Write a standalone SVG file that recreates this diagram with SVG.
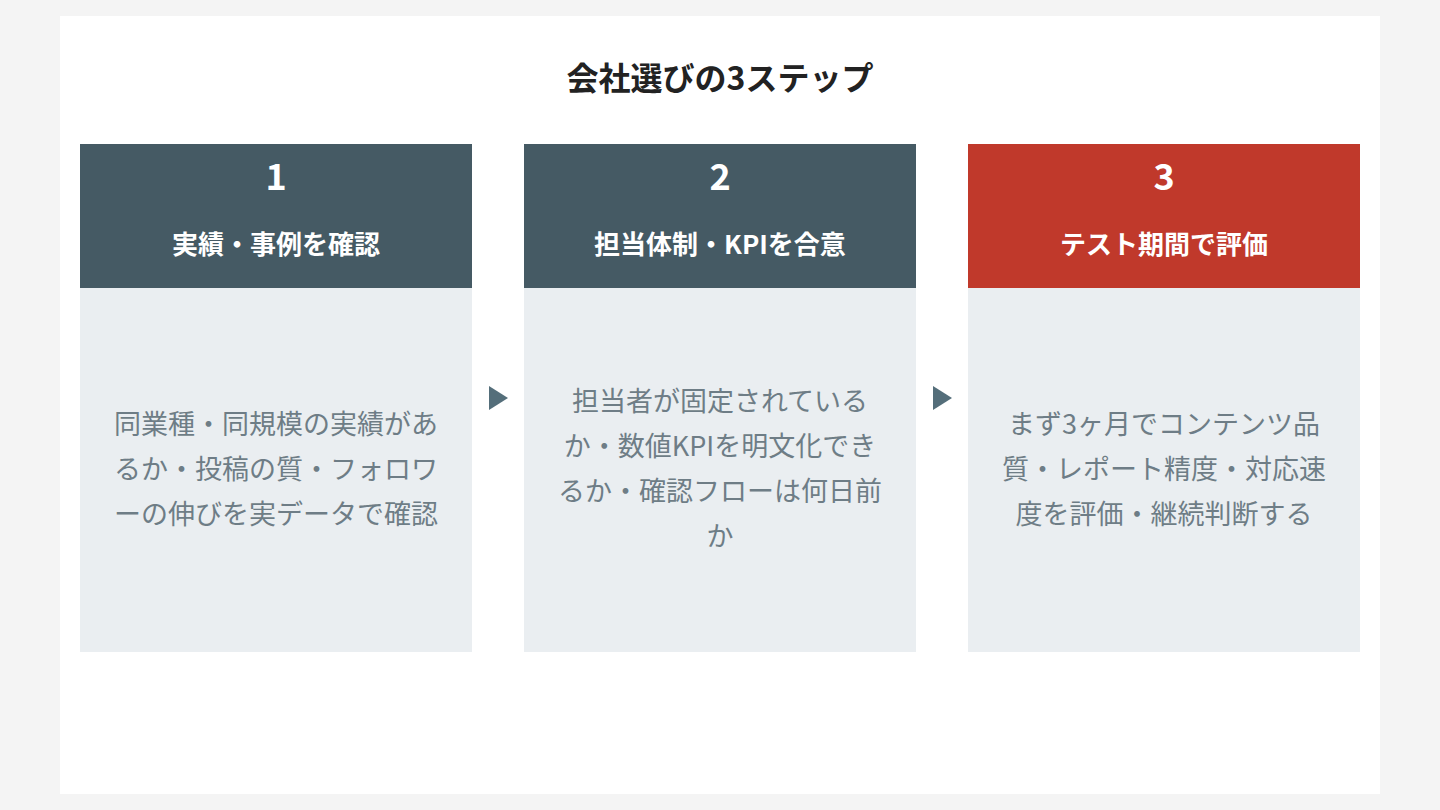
<svg xmlns="http://www.w3.org/2000/svg" width="1440" height="810" viewBox="0 0 1440 810">
<style>
text{font-family:"Noto Sans CJK JP","Noto Sans",sans-serif;text-anchor:middle}
.num{font-size:36px;font-weight:700;fill:#fff}
.hd{font-size:26px;font-weight:700;fill:#fff}
.bd{font-size:27px;fill:#6e7d86}
.body{fill:#eaeef1}
</style>
<rect width="1440" height="810" fill="#f4f4f4"/>
<rect x="60" y="16" width="1320" height="778" fill="#fff"/>
<text x="720" y="90" font-size="32" font-weight="700" fill="#222">会社選びの3ステップ</text>
<g id="step1">
<rect x="80" y="144" width="392" height="144" fill="#455a64"/>
<rect x="80" y="288" width="392" height="364" class="body"/>
<text x="276" y="190" class="num">1</text>
<text x="276" y="254" class="hd">実績・事例を確認</text>
<text x="276" y="434" class="bd">同業種・同規模の実績があ</text>
<text x="276" y="479" class="bd">るか・投稿の質・フォロワ</text>
<text x="276" y="524" class="bd">ーの伸びを実データで確認</text>
</g>
<g id="step2">
<rect x="524" y="144" width="392" height="144" fill="#455a64"/>
<rect x="524" y="288" width="392" height="364" class="body"/>
<text x="720" y="190" class="num">2</text>
<text x="720" y="254" class="hd">担当体制・KPIを合意</text>
<text x="720" y="411" class="bd">担当者が固定されている</text>
<text x="720" y="456" class="bd">か・数値KPIを明文化でき</text>
<text x="720" y="501" class="bd">るか・確認フローは何日前</text>
<text x="720" y="546" class="bd">か</text>
</g>
<g id="step3">
<rect x="968" y="144" width="392" height="144" fill="#c0392b"/>
<rect x="968" y="288" width="392" height="364" class="body"/>
<text x="1164" y="190" class="num">3</text>
<text x="1164" y="254" class="hd">テスト期間で評価</text>
<text x="1164" y="434" class="bd">まず3ヶ月でコンテンツ品</text>
<text x="1164" y="479" class="bd">質・レポート精度・対応速</text>
<text x="1164" y="524" class="bd">度を評価・継続判断する</text>
</g>
<g id="connectors" fill="#546e7a">
<polygon points="489,386 508,398 489,410"/>
<polygon points="933,386 952,398 933,410"/>
</g>
</svg>
